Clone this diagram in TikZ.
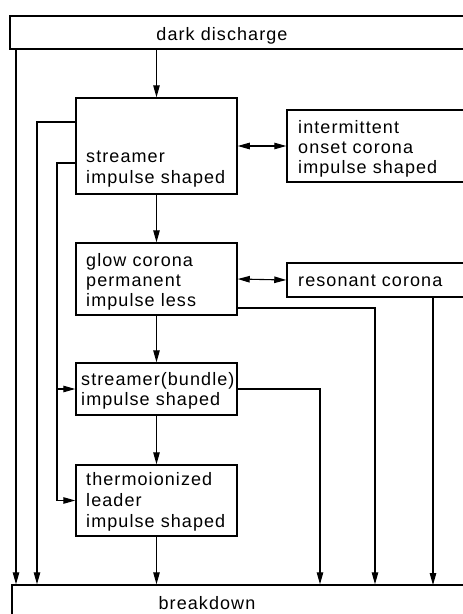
\documentclass[tikz,border=0pt]{standalone}
\usepackage{fontspec}
\setmainfont{Liberation Sans}[LetterSpace=6]
\usetikzlibrary{arrows.meta}
\begin{document}
\begin{tikzpicture}[x=1pt,y=-1pt,
  box/.style={draw, line width=1.5pt, inner sep=0pt, minimum width=#1},
  txt/.style={anchor=base west, inner sep=0pt, font=\fontsize{18}{20.5}\selectfont},
  ctxt/.style={anchor=base, inner sep=0pt, font=\fontsize{18}{20.5}\selectfont},
  conn/.style={line width=1.1pt, -{Triangle[length=12pt,width=6.5pt]}},
  dconn/.style={line width=1.1pt, {Triangle[length=12pt,width=6.5pt]}-{Triangle[length=12pt,width=6.5pt]}},
  line/.style={line width=1.1pt}]
\useasboundingbox (0,0) rectangle (463,614);
\clip (0,0) rectangle (463,614);
% boxes
\node[box=470pt, minimum height=33pt] (dark) at (245,32.5) {};
\node[box=161pt, minimum height=96pt] (str) at (156.5,146) {};
\node[box=193pt, minimum height=72pt] (inter) at (383.5,146) {};
\node[box=161pt, minimum height=72pt] (glow) at (156.5,279) {};
\node[box=193pt, minimum height=34pt] (res) at (383.5,280) {};
\node[box=161pt, minimum height=52pt] (bund) at (156.5,389) {};
\node[box=161pt, minimum height=71pt] (therm) at (156.5,500.5) {};
\node[box=468pt, minimum height=60pt] (brk) at (246,615) {};
% texts
\node[ctxt] (tdark) at (222,40) {dark discharge};
\node[txt] (ts1) at (86,162.5) {streamer};
\node[txt] (ts2) at (86,183) {impulse shaped};
\node[txt] (ti1) at (298,133) {intermittent};
\node[txt] (ti2) at (298,153) {onset corona};
\node[txt] (ti3) at (298,173) {impulse shaped};
\node[txt] (tg1) at (86,266) {glow corona};
\node[txt] (tg2) at (86,286) {permanent};
\node[txt] (tg3) at (86,306) {impulse less};
\node[txt] (tr1) at (298,286) {resonant corona};
\node[txt] (tb1) at (81,385) {streamer(bundle)};
\node[txt] (tb2) at (81,405) {impulse shaped};
\node[txt] (tt1) at (86,485) {thermoionized};
\node[txt] (tt2) at (86,506) {leader};
\node[txt] (tt3) at (86,527) {impulse shaped};
\node[ctxt] (tbrk) at (207,609) {breakdown};
% helper coordinates
\coordinate (xa) at (16,0);
\coordinate (xb) at (37,0);
\coordinate (xc) at (57,0);
\coordinate (xd) at (320,0);
\coordinate (xe) at (375,0);
\coordinate (ya) at (0,122);
\coordinate (yb) at (0,163);
\coordinate (yc) at (0,308);
% main chain
\draw[conn] (str.north |- dark.south) -- (str.north);
\draw[conn] (str.south) -- (glow.north);
\draw[conn] (glow.south) -- (bund.north);
\draw[conn] (bund.south) -- (therm.north);
\draw[conn] (therm.south) -- (therm.south |- brk.north);
% double arrows
\draw[dconn] (str.east) -- (inter.west);
\draw[dconn] (glow.east) -- (res.west);
% left lines
\draw[conn] (xa |- dark.south) -- (xa |- brk.north);
\draw[conn] (str.west |- ya) -- (xb |- ya) -- (xb |- brk.north);
\draw[conn] (str.west |- yb) -- (xc |- yb) -- (xc |- therm.west) -- (therm.west);
\draw[conn] (xc |- bund.west) -- (bund.west);
% right lines
\draw[conn] (glow.east |- yc) -- (xe |- yc) -- (xe |- brk.north);
\draw[conn] (bund.east) -- (xd |- bund.east) -- (xd |- brk.north);
\draw[conn] (res.south -| 433,0) -- (433,585);
\end{tikzpicture}
\end{document}
